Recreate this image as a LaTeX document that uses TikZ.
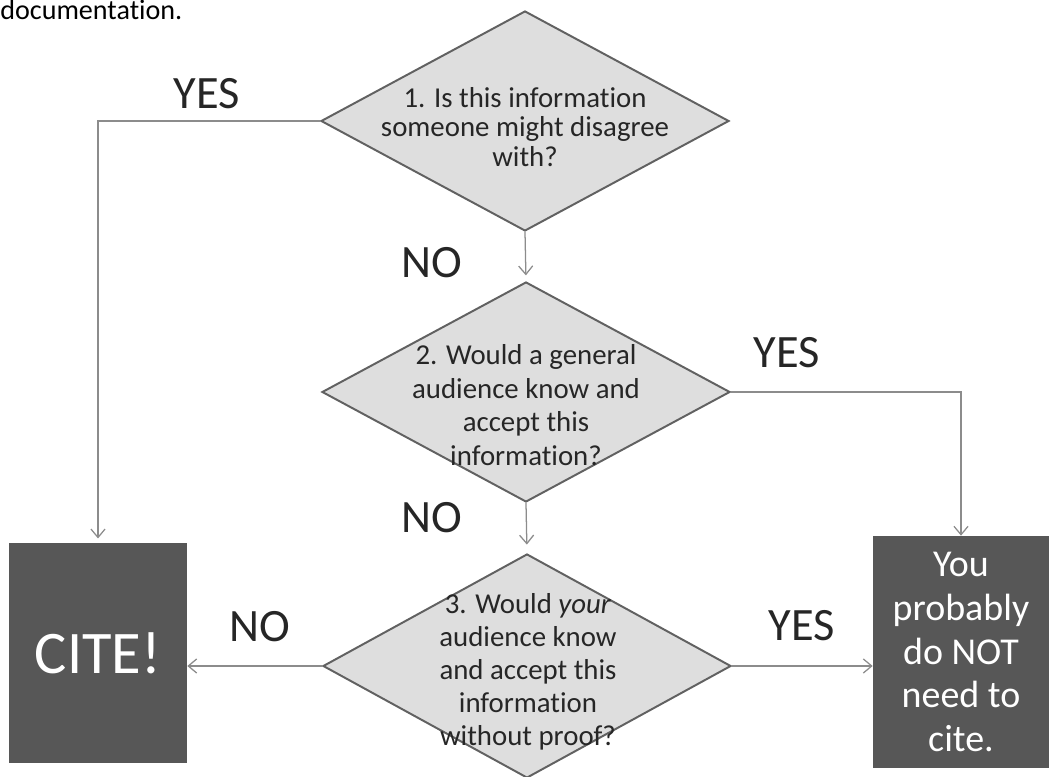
\documentclass[tikz,border=0pt]{standalone}
\usepackage{fontspec}
\setmainfont[Ligatures=NoCommon]{Carlito}
\usetikzlibrary{shapes.geometric, arrows.meta}
\tikzstyle{question} = [diamond, draw=black!62, line width=1.4pt, fill=black!13, minimum width=102mm, minimum height=55mm, inner sep=0]
\tikzstyle{qtext} = [align=center, text=black!85, inner sep=0]
\tikzstyle{answer} = [rectangle, fill=black!66, text=white, align=center, inner sep=0]
\tikzstyle{yesno} = [font=\fontsize{33}{40}\selectfont, text=black!85, inner sep=0]
\tikzstyle{arrow} = [black!45, line width=0.9pt, -{Straight Barb[length=6pt,width=10pt]}]

\begin{document}
\begin{tikzpicture}[x=0.25mm,y=0.25mm]
\useasboundingbox (0,0) rectangle (1049,776);

\node[anchor=base west, inner sep=0, font=\fontsize{20}{24}\selectfont] (doc) at (0,756) {documentation.};

% the three questions
\node[question] (d1) at (525,655) {};
\node[question] (d2) at (526,384) {};
\node[question, minimum height=56mm] (d3) at (527,110) {};

\node[qtext, font=\fontsize{20.5}{21}\selectfont] (t1) at (525,649) {1. Is this information\\someone might disagree\\with?};
\node[qtext, font=\fontsize{20.5}{24}\selectfont] (t2) at (526,371) {2. Would a general\\audience know and\\accept this\\information?};
\node[qtext, font=\fontsize{20.5}{23.5}\selectfont] (t3) at (528,104) {3. Would \textit{your}\\audience know\\and accept this\\information\\without proof?};

% answers
\node[answer, minimum width=44.5mm, minimum height=55mm, font=\fontsize{43}{50}\selectfont] (cite) at (98,123) {CITE!};
\node[answer, minimum width=44mm, minimum height=58mm, font=\fontsize{27}{31}\selectfont] (nc) at (961,124) {You\\probably\\do NOT\\need to\\cite.};

% labels
\node[yesno] (y1) at (207,682) {YES};
\node[yesno] (n1) at (432,513) {NO};
\node[yesno] (y2) at (787,423) {YES};
\node[yesno] (n2) at (432,258) {NO};
\node[yesno] (n3) at (260,149) {NO};
\node[yesno] (y3) at (802,150) {YES};

\draw[arrow, shorten >=3pt] (d1.west) -| (cite.north);
\draw[arrow, shorten >=4pt] (d1.south) -- (d2.north);
\draw[arrow] (d2.east) -| (nc.north);
\draw[arrow, shorten >=6pt] (d2.south) -- (d3.north);
\draw[arrow] (d3.west) -- (d3.west -| cite.east);
\draw[arrow] (d3.east) -- (d3.east -| nc.west);
\end{tikzpicture}
\end{document}
